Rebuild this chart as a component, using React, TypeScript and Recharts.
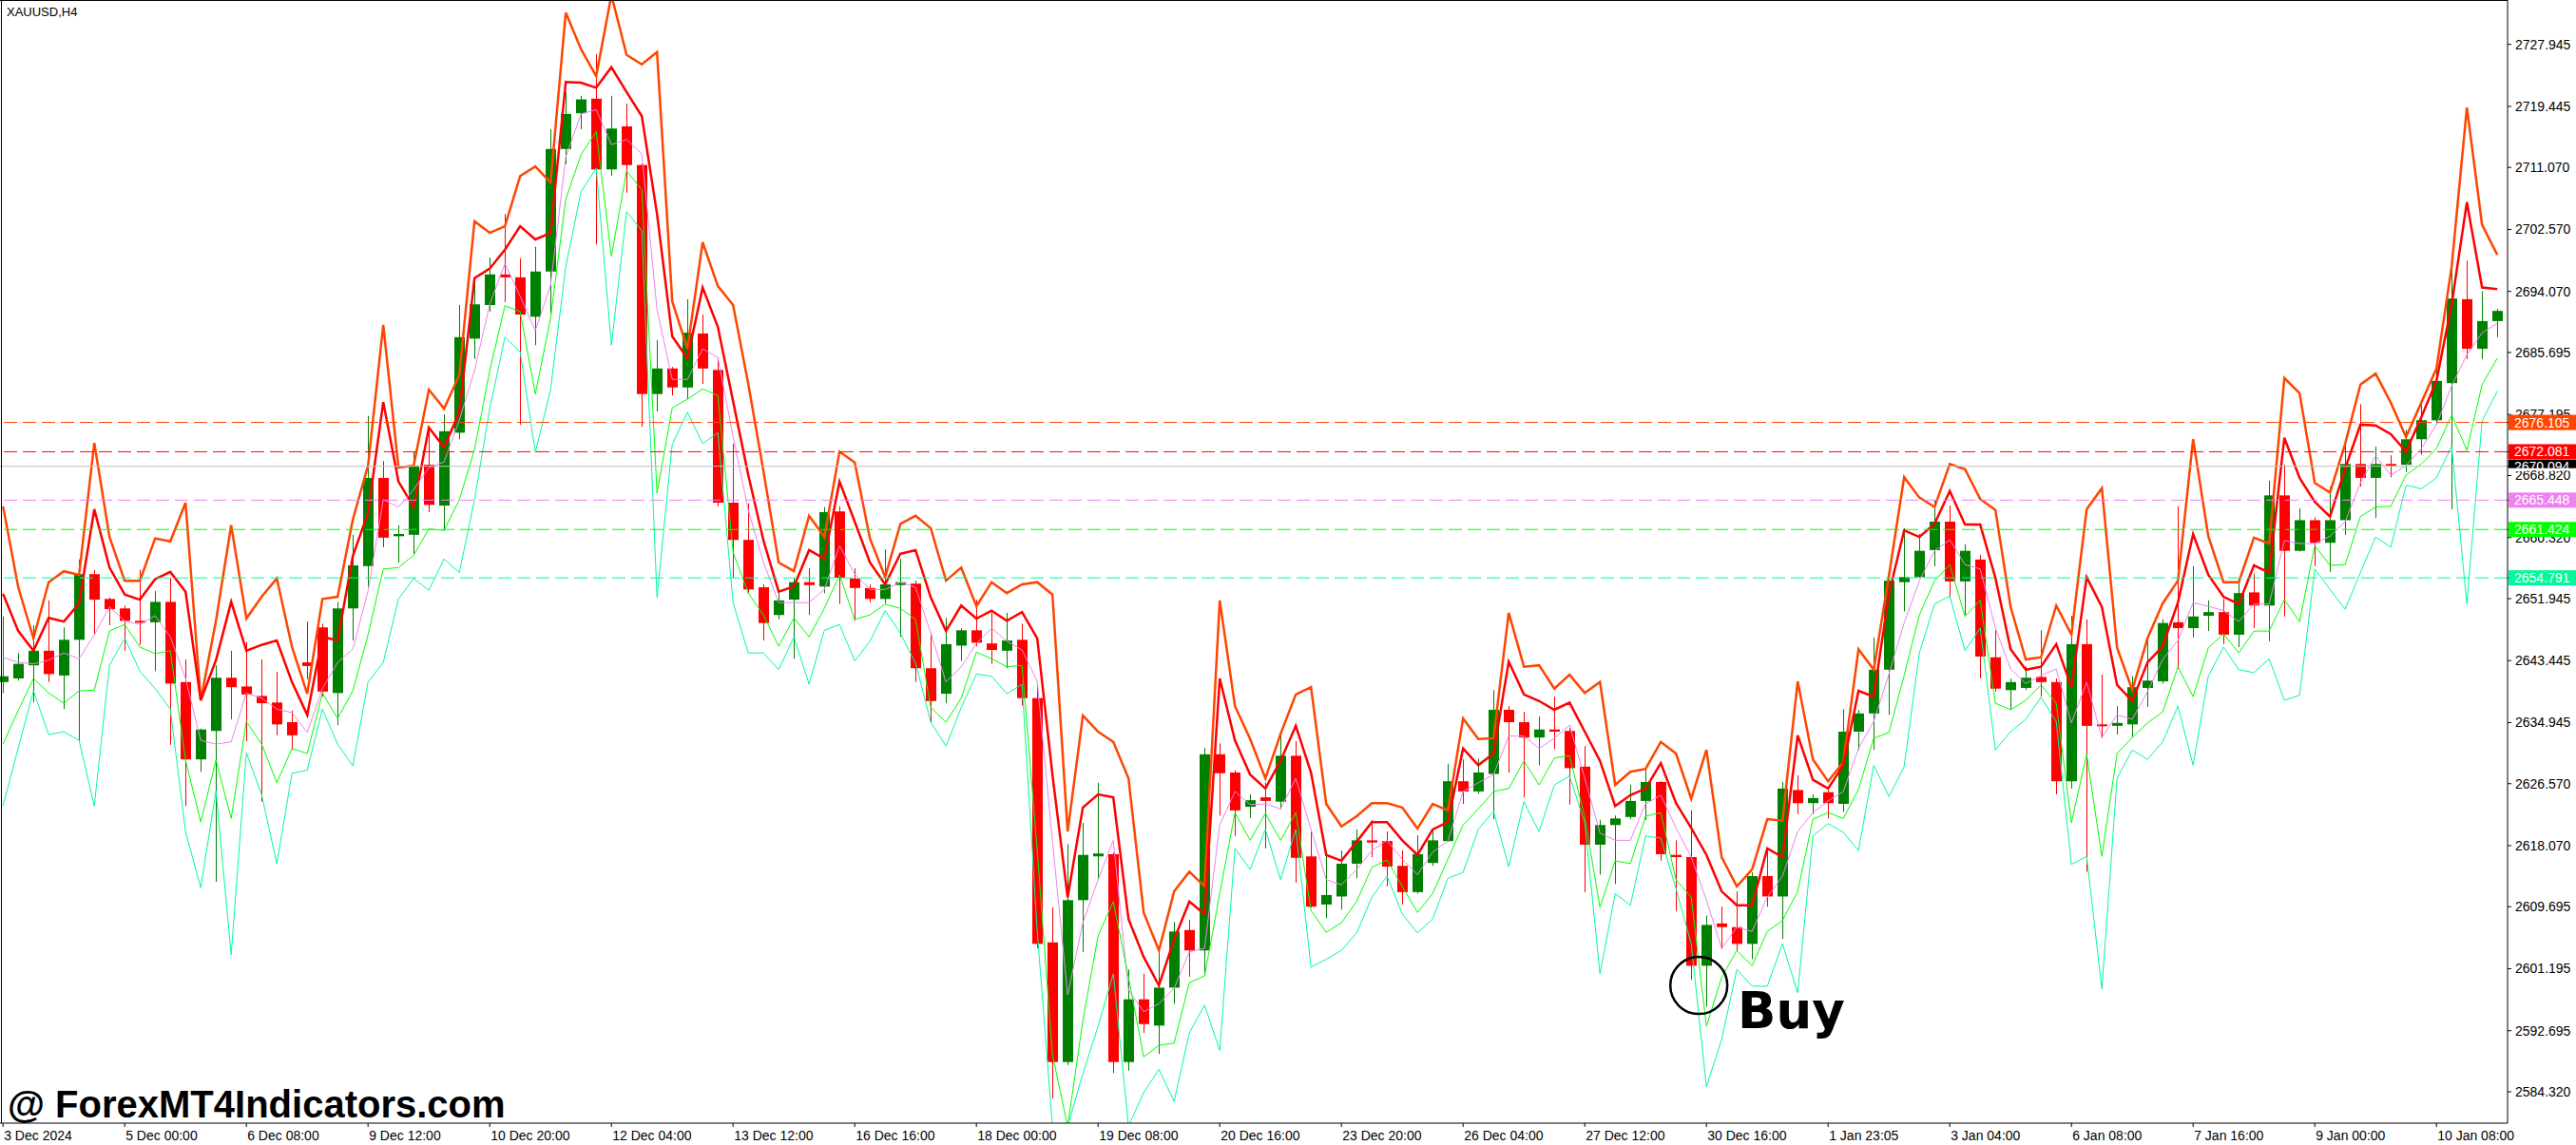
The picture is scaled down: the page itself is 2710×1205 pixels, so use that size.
import React from "react";
import {
	Bar,
	ComposedChart,
	Line,
	ReferenceDot,
	ReferenceLine,
	XAxis,
	YAxis,
} from "recharts";

const FONT = "'Liberation Sans', Arial, sans-serif";
const WIDTH = 2710;
const HEIGHT = 1205;
const PLOT_BOTTOM = 1182;
const AXIS_WIDTH = 72;

// XAUUSD H4 candles, one entry per bar
const open = [
	2640.5, 2641.0, 2642.8, 2644.8, 2641.4, 2646.3, 2655.3, 2651.9, 2650.6, 2648.9,
	2648.7, 2651.5, 2640.5, 2629.9, 2633.8, 2641.1, 2639.9, 2638.6, 2637.7, 2635.0,
	2643.2, 2648.0, 2639.0, 2650.6, 2656.4, 2668.5, 2660.5, 2660.7, 2670.3, 2664.7,
	2674.7, 2687.6, 2692.2, 2696.4, 2696.0, 2690.6, 2696.8, 2713.6, 2718.5, 2720.5,
	2710.8, 2716.7, 2711.4, 2680.0, 2683.5, 2680.9, 2688.3, 2683.3, 2665.1, 2660.0,
	2653.5, 2649.7, 2651.8, 2654.2, 2653.6, 2663.9, 2654.7, 2653.4, 2651.9, 2653.8,
	2654.0, 2642.4, 2638.9, 2645.5, 2647.6, 2645.8, 2644.8, 2646.3, 2638.3, 2604.8,
	2588.4, 2610.6, 2616.6, 2616.9, 2588.4, 2597.0, 2593.4, 2598.6, 2606.5, 2603.7,
	2630.6, 2628.1, 2623.4, 2624.7, 2624.1, 2630.4, 2616.6, 2610.0, 2611.1, 2615.6,
	2618.8, 2618.7, 2615.3, 2611.7, 2615.7, 2618.7, 2626.9, 2625.5, 2627.9, 2636.7,
	2635.0, 2632.9, 2634.0, 2633.8, 2628.9, 2618.2, 2620.9, 2622.0, 2624.2, 2626.8,
	2616.8, 2616.5, 2601.6, 2607.4, 2606.9, 2604.6, 2613.9, 2611.1, 2625.7, 2623.9,
	2625.4, 2623.8, 2633.7, 2636.2, 2642.2, 2654.2, 2654.9, 2658.6, 2662.5, 2654.3,
	2657.3, 2643.9, 2639.4, 2639.7, 2641.2, 2640.5, 2626.9, 2645.7, 2634.7, 2634.5,
	2634.7, 2639.7, 2640.6, 2648.7, 2647.9, 2649.6, 2650.1, 2647.0, 2652.8, 2651.0,
	2666.1, 2658.5, 2662.7, 2659.6, 2662.7, 2670.4, 2668.5, 2670.4, 2670.3, 2673.8,
	2676.4, 2681.5, 2693.0, 2686.2, 2690.0,
];
const high = [
	2649.5, 2644.5, 2648.3, 2651.7, 2648.0, 2657.3, 2655.9, 2652.1, 2651.0, 2655.9,
	2653.0, 2654.8, 2643.6, 2634.1, 2642.8, 2644.8, 2646.0, 2643.6, 2641.9, 2636.6,
	2648.8, 2648.5, 2651.5, 2660.7, 2677.0, 2670.8, 2662.0, 2672.1, 2675.4, 2677.2,
	2692.2, 2695.9, 2698.7, 2704.7, 2698.6, 2700.2, 2716.3, 2721.4, 2720.9, 2726.6,
	2720.9, 2719.8, 2711.6, 2687.4, 2683.7, 2693.0, 2690.9, 2685.0, 2673.2, 2665.0,
	2653.9, 2652.7, 2654.8, 2656.1, 2664.5, 2664.6, 2656.1, 2653.9, 2658.7, 2657.4,
	2654.4, 2647.2, 2649.3, 2647.9, 2651.8, 2650.0, 2650.0, 2648.5, 2640.1, 2609.6,
	2618.3, 2621.2, 2626.7, 2617.1, 2601.1, 2600.5, 2603.7, 2607.6, 2607.9, 2631.5,
	2632.1, 2628.4, 2625.1, 2626.7, 2633.7, 2632.4, 2620.0, 2617.3, 2617.4, 2620.3,
	2621.6, 2620.0, 2617.4, 2619.5, 2620.3, 2629.3, 2629.9, 2630.0, 2639.4, 2637.2,
	2636.4, 2635.8, 2638.5, 2634.2, 2631.7, 2621.6, 2622.2, 2626.4, 2628.5, 2626.9,
	2618.8, 2622.9, 2608.5, 2609.7, 2611.8, 2614.4, 2617.7, 2626.8, 2627.7, 2625.1,
	2625.7, 2636.8, 2636.7, 2646.6, 2656.0, 2661.6, 2660.8, 2665.4, 2664.7, 2659.4,
	2657.9, 2647.6, 2641.0, 2642.6, 2647.6, 2641.0, 2649.6, 2649.1, 2641.5, 2637.2,
	2641.3, 2646.7, 2649.1, 2664.6, 2656.4, 2651.7, 2651.9, 2654.5, 2655.4, 2668.1,
	2670.3, 2664.3, 2663.1, 2667.3, 2673.3, 2678.6, 2672.8, 2671.6, 2675.1, 2679.0,
	2683.2, 2698.3, 2698.3, 2694.1, 2691.7,
];
const low = [
	2639.0, 2640.7, 2637.7, 2640.5, 2636.8, 2632.5, 2647.0, 2648.3, 2644.8, 2645.6,
	2642.0, 2631.9, 2623.5, 2628.2, 2613.1, 2635.4, 2632.4, 2624.1, 2633.2, 2631.2,
	2640.9, 2638.5, 2634.6, 2646.2, 2653.5, 2659.0, 2656.9, 2658.1, 2663.8, 2661.3,
	2673.8, 2684.8, 2691.3, 2692.6, 2675.8, 2686.7, 2691.0, 2711.5, 2716.3, 2700.5,
	2709.9, 2707.6, 2675.5, 2677.6, 2679.8, 2679.3, 2681.4, 2664.6, 2654.8, 2652.7,
	2646.2, 2649.1, 2643.7, 2649.7, 2652.7, 2651.2, 2648.9, 2651.4, 2651.3, 2646.7,
	2640.5, 2635.0, 2637.6, 2643.4, 2645.4, 2643.0, 2642.4, 2637.3, 2604.0, 2583.4,
	2588.0, 2603.5, 2613.4, 2586.9, 2587.2, 2592.4, 2589.5, 2596.4, 2600.1, 2600.2,
	2622.2, 2619.4, 2621.9, 2617.7, 2623.1, 2613.0, 2609.6, 2608.1, 2609.3, 2613.6,
	2616.5, 2612.5, 2610.0, 2611.5, 2615.3, 2618.6, 2623.8, 2625.2, 2621.7, 2628.1,
	2624.7, 2629.1, 2631.3, 2623.7, 2611.7, 2614.1, 2612.8, 2621.7, 2621.6, 2616.0,
	2609.1, 2599.7, 2596.0, 2603.9, 2603.6, 2602.5, 2609.7, 2605.3, 2622.4, 2622.4,
	2621.8, 2622.7, 2631.2, 2631.2, 2636.0, 2650.2, 2654.8, 2656.4, 2652.2, 2649.7,
	2641.0, 2639.2, 2636.7, 2639.4, 2638.5, 2625.1, 2625.9, 2614.5, 2632.8, 2633.3,
	2633.0, 2637.1, 2640.3, 2642.3, 2646.6, 2647.5, 2645.7, 2645.3, 2647.9, 2646.1,
	2649.5, 2658.4, 2656.4, 2655.6, 2660.7, 2667.3, 2663.0, 2668.6, 2669.3, 2671.7,
	2675.8, 2664.2, 2684.8, 2684.8, 2687.8,
];
const close = [
	2641.3, 2643.0, 2644.8, 2641.6, 2646.3, 2655.3, 2651.8, 2650.5, 2648.9, 2648.7,
	2651.5, 2640.3, 2629.9, 2634.0, 2641.1, 2639.8, 2638.8, 2637.6, 2634.7, 2633.2,
	2642.7, 2639.2, 2650.6, 2656.5, 2668.5, 2660.3, 2660.8, 2670.2, 2664.8, 2674.9,
	2687.8, 2692.3, 2696.4, 2696.0, 2690.9, 2696.8, 2713.6, 2718.4, 2720.4, 2710.8,
	2716.4, 2711.4, 2680.0, 2683.5, 2680.9, 2688.4, 2683.5, 2665.1, 2660.0, 2653.2,
	2648.6, 2651.7, 2654.2, 2653.8, 2663.8, 2654.8, 2653.4, 2651.9, 2653.9, 2654.2,
	2642.4, 2637.9, 2645.7, 2647.6, 2645.9, 2644.9, 2646.2, 2638.3, 2604.6, 2588.4,
	2610.6, 2616.8, 2617.0, 2588.4, 2597.0, 2593.6, 2598.6, 2606.3, 2603.7, 2630.6,
	2628.0, 2622.9, 2624.3, 2624.2, 2630.4, 2616.4, 2609.7, 2611.3, 2615.6, 2618.8,
	2618.5, 2615.2, 2611.7, 2616.9, 2618.8, 2626.9, 2625.5, 2628.1, 2636.7, 2635.0,
	2632.9, 2634.0, 2633.7, 2628.7, 2618.2, 2620.9, 2621.8, 2624.2, 2626.8, 2616.9,
	2616.5, 2601.6, 2607.2, 2606.9, 2604.6, 2613.9, 2611.1, 2625.9, 2623.9, 2624.6,
	2623.9, 2633.7, 2636.2, 2642.2, 2654.4, 2654.9, 2658.5, 2662.5, 2654.3, 2658.5,
	2644.0, 2639.6, 2640.5, 2641.1, 2640.5, 2626.9, 2645.7, 2634.5, 2634.5, 2634.9,
	2639.8, 2640.7, 2648.6, 2647.9, 2649.5, 2650.1, 2647.0, 2652.7, 2651.0, 2666.1,
	2658.5, 2662.7, 2659.6, 2662.7, 2670.4, 2668.5, 2670.4, 2670.2, 2673.8, 2676.4,
	2681.8, 2693.1, 2686.2, 2690.0, 2691.4,
];

// indicator bands, top to bottom
const bandOuterHigh = [
	2664.6, 2653.5, 2646.5, 2654.2, 2655.7, 2655.2, 2673.3, 2660.4, 2654.4, 2654.4,
	2660.2, 2659.8, 2665.1, 2638.0, 2648.9, 2662.0, 2649.2, 2652.2, 2654.7, 2645.3,
	2638.9, 2651.9, 2652.2, 2662.8, 2670.2, 2689.5, 2669.9, 2670.2, 2680.6, 2678.0,
	2682.6, 2703.7, 2702.1, 2703.0, 2709.9, 2711.2, 2709.0, 2732.3, 2727.3, 2723.6,
	2734.7, 2726.5, 2725.2, 2726.9, 2692.7, 2686.2, 2700.8, 2694.8, 2692.2, 2681.4,
	2669.4, 2656.9, 2655.7, 2663.3, 2660.4, 2672.1, 2670.6, 2660.2, 2654.9, 2662.2,
	2663.3, 2661.6, 2654.4, 2656.2, 2650.9, 2654.2, 2652.7, 2653.9, 2654.2, 2652.5,
	2620.0, 2635.9, 2633.7, 2632.3, 2627.3, 2608.9, 2603.7, 2611.8, 2614.5, 2612.5,
	2651.7, 2637.2, 2632.7, 2627.3, 2633.4, 2638.8, 2639.8, 2623.8, 2620.7, 2622.1,
	2623.9, 2623.9, 2623.3, 2620.4, 2623.8, 2622.9, 2635.5, 2632.7, 2632.8, 2650.0,
	2642.6, 2642.8, 2639.6, 2641.5, 2639.0, 2640.5, 2626.4, 2628.2, 2628.6, 2632.3,
	2630.7, 2624.5, 2631.2, 2616.5, 2612.5, 2614.8, 2621.7, 2621.5, 2640.6, 2629.9,
	2626.9, 2629.5, 2645.0, 2642.2, 2655.1, 2668.6, 2665.8, 2664.5, 2670.4, 2669.7,
	2665.6, 2664.1, 2650.8, 2643.6, 2643.9, 2651.0, 2647.0, 2664.2, 2667.1, 2645.2,
	2639.4, 2646.5, 2651.3, 2654.4, 2673.8, 2660.5, 2654.2, 2654.2, 2660.3, 2659.5,
	2682.2, 2680.1, 2667.8, 2666.5, 2673.2, 2681.3, 2682.8, 2678.8, 2674.1, 2678.8,
	2683.5, 2697.5, 2719.3, 2703.2, 2699.1,
];
const bandInnerHigh = [
	2652.6, 2647.5, 2644.8, 2649.3, 2648.8, 2651.3, 2664.2, 2656.2, 2652.5, 2651.8,
	2654.6, 2655.6, 2652.9, 2638.0, 2643.5, 2651.5, 2644.8, 2645.6, 2646.2, 2640.5,
	2636.0, 2646.7, 2646.2, 2657.8, 2663.7, 2678.9, 2668.0, 2664.5, 2675.4, 2672.7,
	2677.5, 2695.9, 2697.2, 2699.8, 2703.0, 2701.2, 2702.1, 2722.8, 2722.7, 2722.0,
	2724.8, 2721.4, 2718.1, 2704.7, 2687.9, 2684.9, 2694.6, 2689.2, 2679.0, 2668.9,
	2659.9, 2652.9, 2653.6, 2658.6, 2657.4, 2668.0, 2662.5, 2656.9, 2653.9, 2658.1,
	2658.6, 2652.1, 2647.5, 2651.0, 2649.2, 2650.3, 2648.9, 2650.1, 2646.5, 2627.8,
	2611.0, 2623.3, 2625.1, 2624.7, 2608.0, 2602.8, 2598.9, 2605.2, 2610.4, 2608.7,
	2641.0, 2632.5, 2627.8, 2625.9, 2629.7, 2634.5, 2628.1, 2616.8, 2616.0, 2618.6,
	2621.3, 2621.3, 2618.8, 2616.8, 2620.3, 2621.3, 2631.4, 2629.1, 2630.7, 2643.3,
	2638.8, 2637.9, 2636.7, 2637.7, 2633.7, 2629.7, 2623.5, 2625.0, 2625.9, 2629.4,
	2623.9, 2620.5, 2616.8, 2611.8, 2609.9, 2609.9, 2617.7, 2616.5, 2633.2, 2627.1,
	2625.9, 2629.1, 2639.3, 2638.5, 2652.6, 2661.3, 2660.4, 2662.2, 2666.7, 2662.1,
	2662.1, 2654.8, 2645.0, 2642.2, 2642.6, 2645.7, 2639.8, 2654.9, 2650.8, 2640.1,
	2637.9, 2643.2, 2645.4, 2651.4, 2660.8, 2655.2, 2652.2, 2651.2, 2656.5, 2655.5,
	2674.0, 2668.5, 2665.2, 2663.2, 2669.8, 2675.8, 2675.7, 2674.5, 2672.1, 2676.8,
	2681.8, 2692.3, 2706.3, 2694.6, 2694.4,
];
const bandMiddle = [
	2643.9, 2643.2, 2643.0, 2643.5, 2644.5, 2643.7, 2647.0, 2650.8, 2648.9, 2648.4,
	2649.6, 2646.7, 2641.0, 2632.5, 2632.0, 2632.3, 2639.0, 2638.3, 2636.8, 2636.3,
	2633.6, 2639.6, 2643.2, 2645.0, 2653.0, 2665.5, 2664.5, 2666.9, 2669.9, 2670.7,
	2676.4, 2683.2, 2692.3, 2697.9, 2693.4, 2688.7, 2694.9, 2712.5, 2718.4, 2719.0,
	2714.2, 2714.9, 2712.9, 2691.6, 2682.0, 2682.0, 2686.2, 2685.0, 2674.2, 2664.1,
	2656.9, 2651.4, 2651.4, 2651.4, 2653.2, 2659.2, 2655.3, 2653.2, 2653.2, 2654.2,
	2653.5, 2647.2, 2640.5, 2642.6, 2645.8, 2647.9, 2646.1, 2644.9, 2640.6, 2618.7,
	2597.6, 2607.5, 2613.4, 2618.8, 2598.3, 2595.3, 2596.4, 2598.5, 2603.5, 2604.0,
	2620.9, 2625.5, 2623.7, 2623.8, 2623.1, 2627.3, 2620.3, 2613.4, 2612.7, 2614.8,
	2617.4, 2618.8, 2616.2, 2614.1, 2617.2, 2618.7, 2625.5, 2626.7, 2627.8, 2633.1,
	2633.1, 2631.4, 2632.8, 2634.6, 2627.3, 2619.8, 2618.8, 2618.8, 2623.8, 2625.0,
	2620.5, 2616.5, 2610.6, 2604.0, 2606.9, 2606.3, 2611.0, 2613.9, 2620.0, 2622.6,
	2624.2, 2625.5, 2631.4, 2635.1, 2641.6, 2648.6, 2654.4, 2658.5, 2660.0, 2656.6,
	2656.0, 2647.9, 2642.3, 2640.3, 2641.4, 2642.3, 2634.9, 2640.5, 2632.9, 2636.0,
	2635.4, 2639.2, 2643.6, 2646.2, 2651.4, 2650.9, 2650.3, 2648.8, 2651.2, 2651.2,
	2659.9, 2659.5, 2659.5, 2660.5, 2662.5, 2667.8, 2671.5, 2668.9, 2670.2, 2672.5,
	2675.8, 2681.1, 2685.4, 2688.4, 2689.7,
];
const bandInnerLow = [
	2632.0, 2636.6, 2641.0, 2639.0, 2637.6, 2639.3, 2639.4, 2647.5, 2648.4, 2645.3,
	2644.4, 2644.8, 2629.8, 2621.3, 2629.8, 2621.8, 2635.1, 2632.0, 2626.7, 2631.4,
	2630.7, 2639.0, 2635.5, 2639.3, 2647.0, 2656.0, 2656.2, 2657.9, 2661.5, 2661.3,
	2665.5, 2672.4, 2683.2, 2692.1, 2691.3, 2680.0, 2690.4, 2706.7, 2712.8, 2716.0,
	2698.9, 2710.6, 2708.0, 2666.4, 2678.1, 2679.3, 2680.7, 2679.8, 2658.3, 2652.7,
	2649.7, 2645.4, 2649.3, 2646.7, 2650.6, 2655.2, 2649.1, 2649.7, 2651.2, 2650.6,
	2649.1, 2637.0, 2635.0, 2638.3, 2644.6, 2643.7, 2642.6, 2642.8, 2617.4, 2589.4,
	2579.6, 2594.1, 2605.7, 2610.4, 2600.0, 2589.1, 2590.7, 2591.0, 2599.3, 2600.2,
	2611.5, 2622.6, 2618.8, 2622.5, 2618.8, 2622.6, 2609.2, 2606.2, 2607.5, 2610.4,
	2615.1, 2616.1, 2612.5, 2608.9, 2611.5, 2616.2, 2620.9, 2623.1, 2625.5, 2625.9,
	2629.7, 2626.4, 2630.1, 2630.4, 2622.0, 2609.6, 2616.0, 2615.6, 2622.1, 2622.6,
	2613.4, 2611.0, 2593.3, 2600.0, 2603.7, 2601.6, 2606.3, 2607.8, 2611.8, 2621.7,
	2622.6, 2621.8, 2625.8, 2632.8, 2633.6, 2641.4, 2649.7, 2654.4, 2656.6, 2649.5,
	2651.7, 2637.6, 2636.7, 2638.0, 2640.1, 2637.6, 2621.2, 2630.6, 2616.6, 2630.7,
	2632.9, 2634.9, 2636.4, 2642.6, 2638.5, 2645.2, 2647.1, 2644.5, 2647.5, 2647.5,
	2651.8, 2648.8, 2659.2, 2656.5, 2656.6, 2663.2, 2664.5, 2664.6, 2668.9, 2670.4,
	2672.5, 2677.1, 2672.3, 2681.3, 2684.9,
];
const bandOuterLow = [
	2623.5, 2631.5, 2639.3, 2633.3, 2633.7, 2632.5, 2623.5, 2642.8, 2646.5, 2642.0,
	2639.6, 2636.8, 2620.0, 2612.3, 2625.6, 2603.1, 2630.8, 2625.1, 2615.6, 2628.0,
	2628.4, 2636.8, 2632.0, 2629.0, 2640.5, 2643.2, 2651.9, 2654.7, 2653.1, 2657.4,
	2655.5, 2665.5, 2678.0, 2687.8, 2685.8, 2672.0, 2680.6, 2697.5, 2707.7, 2711.0,
	2686.7, 2705.0, 2702.4, 2652.1, 2673.1, 2677.5, 2673.2, 2674.7, 2651.4, 2644.5,
	2644.5, 2642.2, 2646.7, 2640.2, 2647.6, 2648.4, 2643.4, 2646.1, 2650.3, 2647.2,
	2643.1, 2635.0, 2631.7, 2637.0, 2641.6, 2641.3, 2638.9, 2640.2, 2606.3, 2579.6,
	2579.6, 2586.8, 2593.3, 2600.5, 2579.6, 2584.2, 2587.4, 2583.0, 2592.4, 2596.2,
	2590.0, 2617.7, 2614.8, 2620.3, 2613.4, 2620.3, 2601.4, 2602.5, 2603.7, 2606.1,
	2611.0, 2613.9, 2608.7, 2606.1, 2608.0, 2613.6, 2614.4, 2620.3, 2622.8, 2615.2,
	2624.1, 2620.0, 2626.4, 2627.6, 2621.2, 2600.5, 2611.5, 2609.9, 2619.4, 2619.1,
	2612.2, 2604.6, 2585.0, 2591.5, 2601.1, 2598.8, 2598.8, 2604.6, 2597.9, 2619.4,
	2621.1, 2619.9, 2617.4, 2629.1, 2624.8, 2628.9, 2644.5, 2651.2, 2652.3, 2644.8,
	2647.9, 2631.2, 2633.7, 2635.4, 2638.4, 2635.1, 2615.5, 2616.6, 2598.4, 2627.3,
	2631.2, 2629.9, 2632.3, 2637.2, 2629.1, 2641.3, 2645.3, 2642.2, 2641.8, 2643.7,
	2638.0, 2638.7, 2656.0, 2653.2, 2650.5, 2655.5, 2660.4, 2659.0, 2667.5, 2667.0,
	2668.5, 2672.8, 2651.2, 2676.3, 2680.4,
];

const timeTickBars = [0, 8, 16, 24, 32, 40, 48, 56, 64, 72, 80, 88, 96, 104, 112, 120, 128, 136, 144, 152, 160];
const timeTickLabels = [
	"3 Dec 2024", "5 Dec 00:00", "6 Dec 08:00", "9 Dec 12:00", "10 Dec 20:00", "12 Dec 04:00",
	"13 Dec 12:00", "16 Dec 16:00", "18 Dec 00:00", "19 Dec 08:00", "20 Dec 16:00", "23 Dec 20:00",
	"26 Dec 04:00", "27 Dec 12:00", "30 Dec 16:00", "1 Jan 23:05", "3 Jan 04:00", "6 Jan 08:00",
	"7 Jan 16:00", "9 Jan 00:00", "10 Jan 08:00",
];
const priceTicks = [
	2727.945, 2719.445, 2711.07, 2702.57, 2694.07, 2685.695, 2677.195, 2668.82, 2660.32,
	2651.945, 2643.445, 2634.945, 2626.57, 2618.07, 2609.695, 2601.195, 2592.695, 2584.32,
];

// horizontal levels drawn on the chart (their price tags sit on the axis, over the tick labels)
const levelPrices = [2676.105, 2670.094, 2672.081, 2665.448, 2661.424, 2654.791];
const levelColors = ["#FF4500", "#C0C0C0", "#FF0000", "#EE82EE", "#00FF00", "#00FA9A"];
const levelTagColors = ["#FF4500", "#000000", "#FF0000", "#EE82EE", "#00FF00", "#00FA9A"];
const levelDashed = [true, false, true, true, true, true];

// the "Buy" circle, in bar / price units
const buyBar = 111.5;
const buyPrice = 2598.9;

const rows = open.map((o, i) => ({
	i,
	open: o,
	high: high[i],
	low: low[i],
	close: close[i],
	range: [low[i], high[i]],
	outerHigh: bandOuterHigh[i],
	innerHigh: bandInnerHigh[i],
	middle: bandMiddle[i],
	innerLow: bandInnerLow[i],
	outerLow: bandOuterLow[i],
}));

function Candle(props: any) {
	const { x, y, width, height, payload } = props;
	if (!payload || width == null) return null;
	const top = Math.min(y, y + height);
	const bottom = Math.max(y, y + height);
	const span = payload.high - payload.low || 1;
	const py = (v: number) => top + ((payload.high - v) / span) * (bottom - top);
	const up = payload.close >= payload.open;
	const color = up ? "#008000" : "#FF0000";
	const cx = Math.round(x + width / 2) + 0.5;
	const bodyTop = py(Math.max(payload.open, payload.close));
	const bodyBottom = py(Math.min(payload.open, payload.close));
	return (
		<g>
			<line x1={cx} x2={cx} y1={top} y2={bottom} stroke={color} strokeWidth={1} />
			<rect
				x={cx - 5.5}
				y={bodyTop}
				width={11}
				height={Math.max(bodyBottom - bodyTop, 2)}
				fill={color}
			/>
		</g>
	);
}

function TimeTick(props: any) {
	const { x, y, payload } = props;
	const k = timeTickBars.indexOf(payload.value);
	return (
		<text x={x + 1} y={y + 12} fontSize={14} fontFamily={FONT} fill="#000" textAnchor="start">
			{timeTickLabels[k]}
		</text>
	);
}

// price axis: plain tick labels, then the coloured level tags drawn over them
function PriceTick(props: any) {
	const { x, y, payload } = props;
	const value = payload.value;
	const k = levelPrices.indexOf(value);
	if (k < 0) {
		return (
			<text x={x} y={y + 5} fontSize={14} fontFamily={FONT} fill="#000" textAnchor="start">
				{value.toFixed(3)}
			</text>
		);
	}
	const left = x - 7;
	const bid = levelTagColors[k] === "#000000";
	return (
		<g>
			<rect
				x={left}
				y={bid ? y - 7 : y - 8}
				width={71}
				height={bid ? 9 : 16}
				fill={levelTagColors[k]}
			/>
			<text x={left + 6} y={y + 5} fontSize={14} fontFamily={FONT} fill="#FFFFFF" textAnchor="start">
				{value.toFixed(3)}
			</text>
		</g>
	);
}

export default function App() {
	return (
		<div style={{ position: "relative", width: WIDTH, height: HEIGHT, background: "#fff" }}>
			<style>{"body{margin:0;background:#fff}"}</style>
			<ComposedChart
				width={WIDTH}
				height={HEIGHT}
				data={rows}
				margin={{ top: 0, right: 0, bottom: 0, left: 0 }}
			>
				<XAxis
					dataKey="i"
					type="number"
					domain={[-0.2, 164.675]}
					allowDataOverflow
					ticks={timeTickBars}
					interval={0}
					height={HEIGHT - PLOT_BOTTOM}
					tickSize={4}
					axisLine={{ stroke: "#000" }}
					tickLine={{ stroke: "#000" }}
					tick={<TimeTick />}
				/>
				<YAxis
					orientation="right"
					type="number"
					domain={[2580.02, 2734.03]}
					allowDataOverflow
					ticks={[...priceTicks, ...levelPrices]}
					interval={0}
					width={AXIS_WIDTH}
					tickSize={4}
					tickMargin={4}
					axisLine={{ stroke: "#000" }}
					tickLine={{ stroke: "#000" }}
					tick={<PriceTick />}
				/>
				<Bar dataKey="range" barSize={11} shape={<Candle />} isAnimationActive={false} />
				<Line type="linear" dataKey="outerHigh" stroke="#FF4500" strokeWidth={2.5} dot={false} activeDot={false} isAnimationActive={false} />
				<Line type="linear" dataKey="innerHigh" stroke="#FF0000" strokeWidth={2.5} dot={false} activeDot={false} isAnimationActive={false} />
				<Line type="linear" dataKey="middle" stroke="#EE82EE" strokeWidth={1} dot={false} activeDot={false} isAnimationActive={false} />
				<Line type="linear" dataKey="innerLow" stroke="#00FF00" strokeWidth={1} dot={false} activeDot={false} isAnimationActive={false} />
				<Line type="linear" dataKey="outerLow" stroke="#00FA9A" strokeWidth={1} dot={false} activeDot={false} isAnimationActive={false} />
				{levelPrices.map((p, k) => (
					<ReferenceLine
						key={p}
						y={p}
						stroke={levelColors[k]}
						strokeWidth={1}
						strokeDasharray={levelDashed[k] ? "14 6" : undefined}
					/>
				))}
				<ReferenceDot
					x={buyBar}
					y={buyPrice}
					r={30}
					fill="none"
					stroke="#000"
					strokeWidth={2.5}
				/>
			</ComposedChart>
			<svg
				width={WIDTH}
				height={HEIGHT}
				style={{ position: "absolute", left: 0, top: 0, pointerEvents: "none" }}
			>
				<line x1={0} x2={2638} y1={0.5} y2={0.5} stroke="#000" />
				<line x1={1.5} x2={1.5} y1={0} y2={PLOT_BOTTOM} stroke="#000" />
				<text x={7} y={17} fontSize={13} fontFamily={FONT} fill="#000">
					XAUUSD,H4
				</text>
				<text x={8} y={1176} fontSize={40} fontWeight="bold" fontFamily={FONT} fill="#000">
					@ ForexMT4Indicators.com
				</text>
				<text x={1828} y={1082} fontSize={53} fontWeight="bold" fontFamily="'DejaVu Sans', sans-serif" fill="#000">
					Buy
				</text>
			</svg>
		</div>
	);
}
